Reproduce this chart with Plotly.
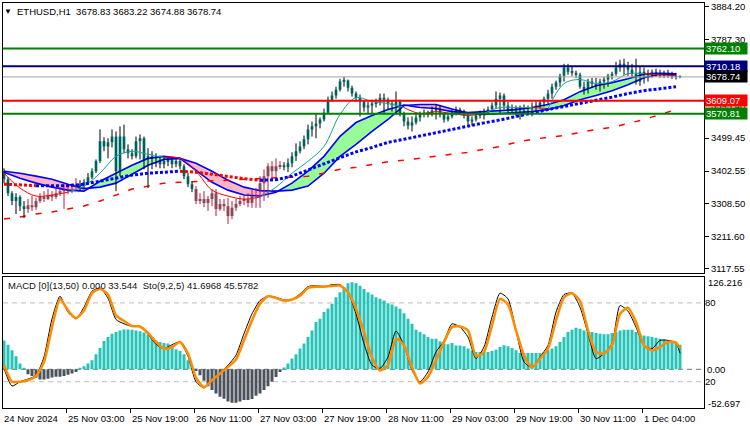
import plotly.graph_objects as go

# ---------------- data ----------------
bar_idx = list(range(170))

opens = [3402,3379,3338,3315,3327,3300,3292,3303,3297,3315,
         3327,3321,3332,3327,3338,3344,3353,3344,3356,3364,
         3359,3370,3385,3402,3432,3490,3475,3487,3504,3402,
         3504,3467,3455,3446,3490,3499,3432,3446,3426,3437,
         3423,3432,3437,3423,3432,3417,3388,3364,3350,3315,
         3321,3309,3321,3338,3292,3306,3300,3271,3295,3306,
         3315,3321,3309,3338,3330,3367,3388,3417,3402,3417,
         3420,3414,3426,3446,3461,3475,3496,3525,3534,3542,
         3554,3574,3612,3624,3641,3665,3668,3647,3630,3618,
         3606,3589,3595,3601,3606,3618,3612,3601,3595,3606,
         3571,3548,3536,3545,3560,3569,3574,3569,3580,3586,
         3571,3554,3563,3574,3583,3577,3566,3548,3554,3566,
         3571,3577,3583,3595,3615,3624,3595,3580,3586,3583,
         3589,3580,3583,3589,3595,3604,3615,3630,3650,3662,
         3682,3706,3694,3691,3685,3650,3636,3665,3659,3650,
         3665,3671,3682,3688,3706,3717,3708,3700,3688,3665,
         3694,3676,3688,3694,3688,3682,3691,3685,3679,3678.83]
highs = [3411,3385,3344,3338,3332,3315,3321,3330,3324,3338,
         3344,3350,3344,3356,3356,3367,3362,3367,3382,3376,
         3379,3397,3411,3437,3525,3502,3499,3525,3519,3534,
         3539,3481,3467,3504,3510,3504,3470,3461,3455,3449,
         3446,3443,3440,3440,3437,3423,3397,3373,3359,3338,
         3344,3330,3350,3350,3321,3321,3324,3315,3321,3330,
         3332,3338,3350,3353,3388,3408,3426,3432,3440,3432,
         3429,3440,3458,3484,3490,3507,3539,3548,3569,3560,
         3586,3621,3636,3650,3673,3679,3671,3653,3636,3627,
         3609,3606,3612,3615,3630,3630,3618,3609,3636,3612,
         3577,3560,3563,3571,3577,3583,3580,3592,3598,3595,
         3574,3569,3583,3592,3589,3583,3571,3563,3571,3580,
         3586,3592,3604,3636,3633,3630,3606,3598,3595,3595,
         3598,3595,3604,3606,3612,3621,3641,3659,3668,3688,
         3717,3717,3708,3697,3691,3665,3673,3676,3676,3673,
         3679,3688,3694,3723,3729,3732,3723,3717,3732,3708,
         3706,3700,3700,3703,3700,3697,3700,3694,3691,3683.22]
lows = [3367,3330,3303,3277,3286,3265,3280,3286,3289,3309,
        3312,3318,3315,3321,3330,3292,3335,3338,3350,3344,
        3350,3364,3379,3397,3426,3461,3440,3472,3344,3388,
        3455,3440,3437,3440,3437,3408,3353,3408,3414,3411,
        3411,3417,3411,3414,3408,3379,3356,3341,3306,3306,
        3297,3286,3300,3271,3286,3286,3248,3262,3286,3300,
        3303,3297,3295,3295,3295,3315,3324,3373,3379,3408,
        3405,3400,3414,3432,3455,3467,3481,3504,3499,3528,
        3548,3569,3606,3615,3636,3650,3636,3621,3606,3563,
        3577,3571,3569,3589,3595,3569,3583,3577,3569,3563,
        3534,3525,3519,3539,3548,3560,3560,3563,3554,3560,
        3545,3548,3557,3566,3569,3557,3539,3536,3548,3557,
        3554,3571,3577,3586,3571,3583,3571,3571,3563,3554,
        3571,3571,3563,3577,3586,3592,3598,3615,3641,3650,
        3665,3685,3682,3676,3644,3627,3630,3647,3641,3636,
        3644,3650,3671,3682,3694,3685,3682,3676,3656,3653,
        3659,3665,3676,3679,3676,3676,3676,3673,3671,3674.88]
closes = [3379,3338,3315,3327,3300,3292,3303,3297,3315,3327,
          3321,3332,3327,3338,3344,3353,3344,3356,3364,3359,
          3370,3385,3402,3432,3490,3475,3487,3504,3402,3504,
          3467,3455,3446,3490,3499,3432,3446,3426,3437,3423,
          3432,3437,3423,3432,3417,3388,3364,3350,3315,3321,
          3309,3321,3338,3292,3306,3300,3271,3295,3306,3315,
          3321,3309,3338,3330,3367,3388,3417,3402,3417,3420,
          3414,3426,3446,3461,3475,3496,3525,3534,3542,3554,
          3574,3612,3624,3641,3665,3668,3647,3630,3618,3606,
          3589,3595,3601,3606,3618,3612,3601,3595,3606,3571,
          3548,3536,3545,3560,3569,3574,3569,3580,3586,3571,
          3554,3563,3574,3583,3577,3566,3548,3554,3566,3571,
          3577,3583,3595,3615,3624,3595,3580,3586,3583,3589,
          3580,3583,3589,3595,3604,3615,3630,3650,3662,3682,
          3706,3694,3691,3685,3650,3636,3665,3659,3650,3665,
          3671,3682,3688,3706,3717,3708,3700,3688,3665,3694,
          3676,3688,3694,3688,3682,3691,3685,3679,3679,3678.74]

macd_hist = [39.4,33.6,25.9,17.8,7.8,1.9,-6.6,-9,-11.6,-14,
             -14,-13,-11,-10,-10,-9,-7.5,-5.7,-3.5,1,
             4.2,7.8,12.3,20.4,29,38.5,43.9,48.5,50.7,53,
             54.3,54.3,54,53,52,50.2,47,43.9,39.4,37.1,
             35.8,35,31.5,27.4,25,20.4,12.3,2.4,-2.2,-8,
             -15.7,-22.9,-28.3,-32.8,-37.4,-40,-43.8,-45.5,-45.5,-44,
             -41.9,-41.9,-40.4,-36,-32.8,-28.3,-22.9,-17,-10.3,-3.5,
             2.4,7.8,14.6,20.4,28.2,35,43.9,53,64.3,69,
             78,83,89.2,98.1,104.9,111.7,117.1,118.5,117.1,114,
             109.5,104.9,101.8,98.1,96,93.7,90,88.2,85.5,82.4,
             76.4,68.9,62.1,53.9,50.7,47.6,43.9,41.7,41.7,38.1,
             35,34,35.8,32.3,32.3,31.3,28.2,25.9,23.6,23.6,
             23.6,23.6,25,26.8,30.4,32.7,31.3,29,25.9,22.2,
             22.2,22.2,22.2,22.2,22.2,23.6,25.9,28.2,31.3,37.1,
             43.9,50.7,53.9,56.7,55.3,53,51.6,50.7,49.3,48.5,
             47.6,47.6,49.3,50.7,53,53.9,53.9,53.9,50.7,48.5,
             46.2,44.9,43.9,43.1,41.7,40.4,38.5,37.1,35,33.544]

# indicator lines, sampled every 4 bars
ind_idx = list(range(0, 170, 4))
ma_slow = [3364.5,3361.6,3360,3360,3360,3364.5,3373,3382,3391,3396.6,
           3399.5,3402.5,3399.5,3393.7,3386.5,3380.5,3376,3377.5,3388,3405,
           3424,3442,3459,3472,3487,3496,3506,3516,3526,3535,
           3544,3552.5,3563,3574,3583,3592,3600.7,3609,3619.5,3630,
           3638.5,3644,3650]
ma_long = [3262.5,3268,3277,3283,3291.7,3300.4,3315,3332.5,3350,3358.7,
           3367.5,3370,3373,3374.5,3376,3379,3382,3383.5,3385,3388,
           3396.6,3408,3414,3423,3430,3434.5,3440,3446,3452,3457.8,
           3466.6,3475,3487,3495.7,3501.6,3507,3516,3525,3530.7,3542,
           3554,3568.6,3583]
ribbon_fast = [3399.5,3382,3367.5,3355.8,3347,3344,3373,3396.6,3420,3440,
               3446,3440,3405,3370,3347,3332.5,3329.6,3341,3367.5,3402.5,
               3446,3504.5,3545,3565.7,3583,3596.4,3589,3586,3577,3574,
               3577,3580,3583,3589,3597.8,3612,3635.6,3653,3662,3673.5,
               3686.5,3689.5,3688]
ribbon_slow = [3402.5,3396.6,3388,3379,3364.5,3351.5,3355.8,3367.5,3393.7,3420,
               3437,3440,3425.8,3402.5,3376,3355.8,3345.5,3344,3347,3358.7,
               3396.6,3446,3481,3519,3554,3594.8,3597.8,3597.8,3584.5,3573,
               3568.6,3571.5,3574,3577,3583,3594.8,3612,3624,3638.5,3656,
               3676.5,3686.5,3685]
ma_thin = [3396.6,3353,3329.6,3332.5,3341,3358.7,3396.6,3446,3460.8,3452,
           3443,3440,3402.5,3347,3329.6,3320.8,3326.7,3355.8,3396.6,3431.6,
           3475,3568.6,3618,3606.5,3600.7,3589,3571.5,3577,3571.5,3565.7,
           3571.5,3589,3589,3589,3586,3659,3671,3659,3665,3688,
           3688,3685,3682]

# stochastic, sampled every 2 bars + last bar
sto_idx = list(range(0, 170, 2)) + [169]
sto_signal = [32.6,20,20,21.2,24.3,35.1,61.6,83.1,74.2,68.4,
              74.2,87.4,90.7,86.4,70.5,66.2,62.4,62.1,57.1,50.3,
              45.2,46.5,50.3,41.4,23.2,15.7,21.2,26.3,31.3,36.9,
              51.5,66.7,79.3,85.1,83.8,81.8,82.6,85.6,91.4,92.4,
              92.4,92.9,93.2,88.1,75.5,57.8,38.4,28.6,32.6,52.8,
              47.7,30.8,18.7,23.7,36.4,50.3,61.6,62.1,59.1,39.4,
              42.7,62.9,83.1,78.8,59.1,40.2,30.8,37.6,45.2,66.7,
              84.3,87.4,81.3,59.1,42.7,41.4,47.7,71.7,76.3,65.4,
              47.7,43.9,46.5,50.3,49.8,45.5782]
sto_main = [30.1,16.7,20,22,24.8,38.9,67.9,85.1,73,67.9,
            76.8,88.9,91.4,83.6,67.4,64.1,62.1,62.1,56.1,48.5,
            45.2,48.2,50.3,39.4,20,15.4,21.2,26.8,32.6,40.2,
            56.6,71.7,81.8,85.1,84.3,82.3,82.6,86.9,92.4,93.2,
            92.4,93.9,93.9,88.1,71.7,49,32.6,30.1,38.9,58.6,
            47.7,28.8,20,27.5,42.7,51,64.1,61.6,54.1,37.6,
            46.5,69.2,87.4,83.1,59.1,35.1,30.8,38.9,47.7,73,
            86.4,87.4,76.8,56.6,37.6,41.4,49,78,73.7,61.6,
            47.7,45.2,51.5,51.5,49.5,41.6968]

x_label_idx = [0, 16, 32, 48, 64, 80, 96, 112, 128, 144, 160]
x_labels = ["24 Nov 2024", "25 Nov 03:00", "25 Nov 19:00", "26 Nov 11:00",
            "27 Nov 03:00", "27 Nov 19:00", "28 Nov 11:00", "29 Nov 03:00",
            "29 Nov 19:00", "30 Nov 11:00", "1 Dec 04:00"]
price_ticks = [3884.20, 3787.30, 3595.40, 3499.45, 3402.55, 3308.50, 3211.60, 3117.55]
levels = [3762.10, 3710.18, 3678.74, 3609.07, 3570.81]
level_colors = ["#008000", "#000080", "#000000", "#FF0000", "#008000"]
level_line_colors = ["#008000", "#000080", "#A0A4A8", "#FF0000", "#008000"]
level_widths = [2, 2, 1, 2, 2]
macd_top, macd_bottom = 126.216, -52.697

title_text = "ETHUSD,H1\u00a0\u00a03678.83 3683.22 3674.88 3678.74"
sub_text = "MACD [0](13,50) 0.000 33.544\u00a0\u00a0Sto(9,2,5) 41.6968 45.5782"

# ---------------- style ----------------
FONT = "Liberation Sans, Arial, sans-serif"
CANDLE_UP = "#20B2AA"
CANDLE_DN = "#6E6E6E"
WICK_UP = "#000000"
WICK_DN = "#C8143C"
HIST_POS = "#26C3B9"
HIST_NEG = "#4A535D"
BLUE = "#0000FF"
RED = "#FF0000"

fig = go.Figure()

# ---- ribbon fill (green when fast above slow, pink otherwise) ----
gx, gy, px_, py_ = [], [], [], []
for k in range(len(ind_idx) - 1):
    x0, x1 = ind_idx[k], ind_idx[k + 1]
    f0, f1, s0, s1 = ribbon_fast[k], ribbon_fast[k + 1], ribbon_slow[k], ribbon_slow[k + 1]
    d0, d1 = f0 - s0, f1 - s1
    if d0 * d1 < 0:
        t = d0 / (d0 - d1)
        xc = x0 + t * (x1 - x0)
        yc = f0 + t * (f1 - f0)
        pieces = [([x0, xc, x0], [f0, yc, s0], d0), ([xc, x1, x1], [yc, f1, s1], d1)]
    else:
        pieces = [([x0, x1, x1, x0], [f0, f1, s1, s0], d0 + d1)]
    for pxs, pys, d in pieces:
        if d >= 0:
            gx += pxs + [pxs[0], None]; gy += pys + [pys[0], None]
        else:
            px_ += pxs + [pxs[0], None]; py_ += pys + [pys[0], None]
fig.add_trace(go.Scatter(x=gx, y=gy, fill="toself", fillcolor="#98FB98", mode="lines",
                         line=dict(width=0), hoverinfo="skip"))
fig.add_trace(go.Scatter(x=px_, y=py_, fill="toself", fillcolor="#FFB6C1", mode="lines",
                         line=dict(width=0), hoverinfo="skip"))
fig.add_trace(go.Scatter(x=ind_idx, y=ribbon_fast, mode="lines", line=dict(color=BLUE, width=1.6)))
fig.add_trace(go.Scatter(x=ind_idx, y=ribbon_slow, mode="lines", line=dict(color=BLUE, width=1.6)))

# ---- long MA (red dashed) ----
fig.add_trace(go.Scatter(x=ind_idx, y=ma_long, mode="lines",
                         line=dict(color=RED, width=1.5, dash="6px,10px")))


def color_runs(xs, ys, cols):
    runs, start = [], 0
    for k in range(1, len(cols) + 1):
        if k == len(cols) or cols[k] != cols[start]:
            runs.append((cols[start], xs[start:k + 1], ys[start:k + 1]))
            start = k
    return runs


# ---- candles ----
for positive in (True, False):
    sel = [i for i in bar_idx if (macd_hist[i] > 0) == positive]
    wx, wy = [], []
    for i in sel:
        wx += [i, i, None]
        wy += [lows[i], highs[i], None]
    fig.add_trace(go.Scatter(x=wx, y=wy, mode="lines",
                             line=dict(color=WICK_UP if positive else WICK_DN, width=1),
                             hoverinfo="skip"))
for positive in (True, False):
    sel = [i for i in bar_idx if (macd_hist[i] > 0) == positive]
    fig.add_trace(go.Bar(x=sel,
                         base=[min(opens[i], closes[i]) for i in sel],
                         y=[max(abs(closes[i] - opens[i]), 1.5) for i in sel],
                         width=0.75,
                         marker=dict(color=CANDLE_UP if positive else CANDLE_DN, line=dict(width=0)),
                         hoverinfo="skip"))

# ---- thin fast MA (teal above ribbon, red below) ----
thin_cols = ["teal" if (ma_thin[k] + ma_thin[k + 1]) >= (ribbon_fast[k] + ribbon_fast[k + 1]) else "red"
             for k in range(len(ind_idx) - 1)]
for c, xs, ys in color_runs(ind_idx, ma_thin, thin_cols):
    fig.add_trace(go.Scatter(x=xs, y=ys, mode="lines",
                             line=dict(color="#1AA39A" if c == "teal" else RED, width=1, shape="spline")))

# ---- slow MA (dotted, blue rising / red falling) ----
slow_cols = ["blue" if ma_slow[k + 1] >= ma_slow[k] else "red" for k in range(len(ind_idx) - 1)]
for c, xs, ys in color_runs(ind_idx, ma_slow, slow_cols):
    fig.add_trace(go.Scatter(x=xs, y=ys, mode="lines",
                             line=dict(color=BLUE if c == "blue" else RED, width=3, dash="3px,2px")))

# ---- MACD histogram ----
fig.add_trace(go.Bar(x=bar_idx, y=macd_hist, width=0.75, xaxis="x2", yaxis="y2",
                     marker=dict(color=[HIST_POS if v > 0 else HIST_NEG for v in macd_hist],
                                 line=dict(width=0)),
                     hoverinfo="skip"))

# ---- Stochastic ----
fig.add_trace(go.Scatter(x=sto_idx, y=sto_main, mode="lines", xaxis="x2", yaxis="y3",
                         line=dict(color="#000000", width=1, shape="spline", smoothing=0.6)))
fig.add_trace(go.Scatter(x=sto_idx, y=sto_signal, mode="lines", xaxis="x2", yaxis="y3",
                         line=dict(color="#FF8C00", width=2.6, shape="spline", smoothing=0.6)))

# ---------------- shapes ----------------
shapes = []
for lv, lc, lw in zip(levels, level_line_colors, level_widths):
    shapes.append(dict(type="line", xref="x domain", x0=0, x1=1, yref="y", y0=lv, y1=lv,
                       line=dict(color=lc, width=lw)))
for lv in (80, 20):
    shapes.append(dict(type="line", xref="x2 domain", x0=0, x1=1, yref="y3", y0=lv, y1=lv,
                       layer="below", line=dict(color="#BDBDBD", width=1, dash="5px,4px")))
shapes.append(dict(type="line", xref="x2 domain", x0=0, x1=1, yref="y2", y0=0, y1=0,
                   layer="below", line=dict(color="#777777", width=1, dash="5px,4px")))

# ---------------- annotations ----------------
ann = []
ann.append(dict(xref="paper", x=0, xanchor="left", xshift=-1, yref="paper", y=1, yanchor="top",
                yshift=-2, text="\u25bc", showarrow=False, font=dict(size=8, color="black")))
ann.append(dict(xref="paper", x=0, xanchor="left", xshift=12, yref="paper", y=1, yanchor="top",
                yshift=-1, text=title_text, showarrow=False, font=dict(size=9.5, color="black", family=FONT)))
ann.append(dict(xref="paper", x=0, xanchor="left", xshift=3, yref="y2 domain", y=1, yanchor="top",
                yshift=-1, text=sub_text, showarrow=False, font=dict(size=9.5, color="#111111", family=FONT)))
for lv, bc in zip(levels, level_colors):
    ann.append(dict(xref="paper", x=1, xanchor="left", xshift=0, yref="y", y=lv, yanchor="middle",
                    text=f"{lv:.2f}", showarrow=False, bgcolor=bc, borderpad=1, width=40, height=9,
                    align="left", font=dict(size=9.5, color="white", family=FONT)))
ann.append(dict(xref="paper", x=1, xanchor="left", xshift=2, yref="y2 domain", y=1, yanchor="middle",
                yshift=-6, text=f"{macd_top:.3f}", showarrow=False, font=dict(size=9.5, family=FONT)))
ann.append(dict(xref="paper", x=1, xanchor="left", xshift=2, yref="y2 domain", y=0, yanchor="middle",
                yshift=5, text=f"{macd_bottom:.3f}", showarrow=False, font=dict(size=9.5, family=FONT)))
for xi, lab in zip(x_label_idx, x_labels):
    ann.append(dict(xref="x2", x=xi, xanchor="left", xshift=-2, yref="paper", y=0, yanchor="top",
                    yshift=-3, text=lab, showarrow=False, font=dict(size=9.5, family=FONT)))

axis_common = dict(showgrid=False, zeroline=False, showline=True, mirror=True,
                   linecolor="black", linewidth=1)
fig.update_layout(
    width=750, height=430,
    margin=dict(l=3, r=46, t=1, b=22),
    paper_bgcolor="white", plot_bgcolor="white",
    showlegend=False, barmode="overlay",
    font=dict(family=FONT, size=9.5, color="black"),
    xaxis=dict(domain=[0, 1], range=[-0.25, 175], anchor="y", showticklabels=False, ticks="",
               **axis_common),
    yaxis=dict(domain=[0.3342, 1], range=[3105.2, 3895.3], side="right", anchor="x",
               tickvals=price_ticks, ticktext=[f"{v:.2f}" for v in price_ticks],
               ticklabeloverflow="allow",
               ticks="outside", ticklen=4, tickcolor="black", **axis_common),
    xaxis2=dict(domain=[0, 1], range=[-0.25, 175], anchor="y2",
                tickvals=[i - 0.5 for i in x_label_idx], ticks="outside", ticklen=4,
                tickcolor="black", showticklabels=False, **axis_common),
    yaxis2=dict(domain=[0, 0.3243], range=[macd_bottom, macd_top], side="right", anchor="x2",
                tickvals=[0], ticktext=["0.00"], ticks="", **axis_common),
    yaxis3=dict(overlaying="y2", range=[0, 100], side="right", anchor="x2",
                tickvals=[80, 20], ticktext=["80", "20"], ticks="",
                showgrid=False, zeroline=False, showline=False),
    shapes=shapes,
    annotations=ann,
)

fig.write_html("out.html")
